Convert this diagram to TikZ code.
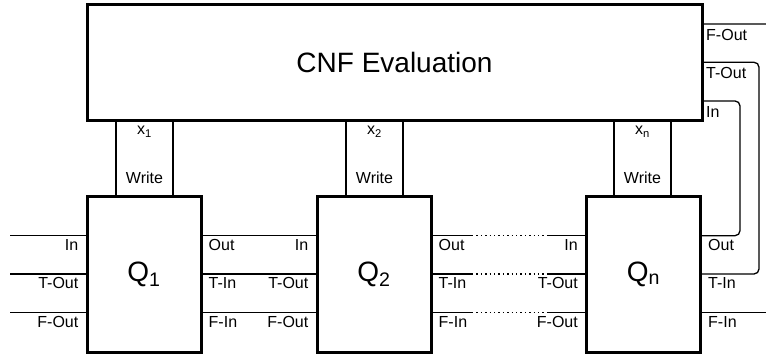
\documentclass[tikz,border=0pt]{standalone}
\usepackage{fontspec}
\setmainfont{Liberation Sans}
\usetikzlibrary{positioning}

\begin{document}
\begin{tikzpicture}[x=1pt, y=-1pt,
        wire/.style={line width=1.3pt},
        big/.style={font=\fontsize{28}{32}\selectfont},
        cnfbox/.style={big, draw, line width=3pt, rectangle,
          minimum width=615pt, minimum height=115.5pt},
        qbox/.style={big, draw, line width=3pt, rectangle,
          minimum width=114pt, minimum height=156pt},
        wbox/.style={draw, line width=1.3pt, rectangle,
          minimum width=57pt, minimum height=76pt},
        lbl/.style={font=\fontsize{16}{18}\selectfont, inner sep=0pt},
        lport/.style={lbl, anchor=north east, xshift=-7pt, yshift=-3.5pt},
        rport/.style={lbl, anchor=north west, xshift=6pt, yshift=-3.5pt},
        cport/.style={lbl, anchor=north west, xshift=2.5pt, yshift=-5pt},
      ]
      \useasboundingbox (0,0) rectangle (766,354);

      % Write boxes (under the thick borders)
      \node[wbox] (w1) at (144.5, 158) {};
      \node[wbox] (w2) at (374.5, 158) {};
      \node[wbox] (wn) at (642.5, 158) {};

      % Evaluation block
      \node[cnfbox] (cnf) at (394.5, 62.25) {CNF Evaluation};

      % Quantifier blocks
      \node[qbox] (q1) at (144, 274) {Q\textsubscript{1}};
      \node[qbox] (q2) at (374, 274) {Q\textsubscript{2}};
      \node[qbox] (qn) at (643.5, 274) {Q\textsubscript{n}};

      % Write box texts
      \node[lbl, anchor=north] (w1-x) at ([yshift=-6.7pt]w1.north) {x\textsubscript{1}};
      \node[lbl, anchor=north] (w2-x) at ([yshift=-6.7pt]w2.north) {x\textsubscript{2}};
      \node[lbl, anchor=north] (wn-x) at ([yshift=-6.7pt]wn.north) {x\textsubscript{n}};
      \node[lbl, anchor=base] (w1-w) at ([yshift=13pt]w1.south) {Write};
      \node[lbl, anchor=base] (w2-w) at ([yshift=13pt]w2.south) {Write};
      \node[lbl, anchor=base] (wn-w) at ([yshift=13pt]wn.south) {Write};

      % Ports of the evaluation block
      \coordinate (cnf-fout) at ([yshift=38.3pt]cnf.east);
      \coordinate (cnf-tout) at (cnf.east);
      \coordinate (cnf-in) at ([yshift=-38.7pt]cnf.east);

      % Ports of Q1
      \coordinate (q1-in) at ([yshift=38.3pt]q1.west);
      \coordinate (q1-tout) at (q1.west);
      \coordinate (q1-fout) at ([yshift=-38.3pt]q1.west);
      \coordinate (q1-out) at ([yshift=38.3pt]q1.east);
      \coordinate (q1-tin) at (q1.east);
      \coordinate (q1-fin) at ([yshift=-38.3pt]q1.east);

      % Ports of Q2
      \coordinate (q2-in) at ([yshift=38.3pt]q2.west);
      \coordinate (q2-tout) at (q2.west);
      \coordinate (q2-fout) at ([yshift=-38.3pt]q2.west);
      \coordinate (q2-out) at ([yshift=38.3pt]q2.east);
      \coordinate (q2-tin) at (q2.east);
      \coordinate (q2-fin) at ([yshift=-38.3pt]q2.east);

      % Ports of Qn
      \coordinate (qn-in) at ([yshift=38.3pt]qn.west);
      \coordinate (qn-tout) at (qn.west);
      \coordinate (qn-fout) at ([yshift=-38.3pt]qn.west);
      \coordinate (qn-out) at ([yshift=38.3pt]qn.east);
      \coordinate (qn-tin) at (qn.east);
      \coordinate (qn-fin) at ([yshift=-38.3pt]qn.east);

      % Free ends and breaks
      \coordinate (left-in) at (10, 235.7);
      \coordinate (left-tout) at (10, 274);
      \coordinate (left-fout) at (10, 312.3);
      \coordinate (right-fin) at (766, 312.3);
      \coordinate (right-fout) at (766, 24);
      \coordinate (gap-a1) at (472, 235.7);
      \coordinate (gap-b1) at (547, 235.7);
      \coordinate (gap-a2) at (472, 274);
      \coordinate (gap-b2) at (547, 274);
      \coordinate (gap-a3) at (472, 312.3);
      \coordinate (gap-b3) at (547, 312.3);

      % Wires
      \draw[wire] (left-in) -- (q1-in);
      \draw[wire] (left-tout) -- (q1-tout);
      \draw[wire] (left-fout) -- (q1-fout);
      \draw[wire] (q1-out) -- (q2-in);
      \draw[wire] (q1-tin) -- (q2-tout);
      \draw[wire] (q1-fin) -- (q2-fout);
      \draw[wire] (q2-out) -- (gap-a1) (gap-b1) -- (qn-in);
      \draw[wire] (q2-tin) -- (gap-a2) (gap-b2) -- (qn-tout);
      \draw[wire] (q2-fin) -- (gap-a3) (gap-b3) -- (qn-fout);
      \draw[wire, dash pattern=on 1.4pt off 3pt] (gap-a1) -- (gap-b1);
      \draw[wire, dash pattern=on 1.4pt off 3pt] (gap-a2) -- (gap-b2);
      \draw[wire, dash pattern=on 1.4pt off 3pt] (gap-a3) -- (gap-b3);
      \draw[wire] (qn-fin) -- (right-fin);
      \draw[wire] (cnf-fout) -- (right-fout);
      \draw[wire, rounded corners=5pt] (qn-out) -- ++(38,0) |- (cnf-in);
      \draw[wire, rounded corners=5pt] (qn-tin) -- ++(57,0) |- (cnf-tout);

      % Port labels
      \node[lport] (q1-inl) at (q1-in) {In};
      \node[lport] (q1-toutl) at (q1-tout) {T-Out};
      \node[lport] (q1-foutl) at (q1-fout) {F-Out};
      \node[rport] (q1-outl) at (q1-out) {Out};
      \node[rport] (q1-tinl) at (q1-tin) {T-In};
      \node[rport] (q1-finl) at (q1-fin) {F-In};

      \node[lport] (q2-inl) at (q2-in) {In};
      \node[lport] (q2-toutl) at (q2-tout) {T-Out};
      \node[lport] (q2-foutl) at (q2-fout) {F-Out};
      \node[rport] (q2-outl) at (q2-out) {Out};
      \node[rport] (q2-tinl) at (q2-tin) {T-In};
      \node[rport] (q2-finl) at (q2-fin) {F-In};

      \node[lport] (qn-inl) at (qn-in) {In};
      \node[lport] (qn-toutl) at (qn-tout) {T-Out};
      \node[lport] (qn-foutl) at (qn-fout) {F-Out};
      \node[rport] (qn-outl) at (qn-out) {Out};
      \node[rport] (qn-tinl) at (qn-tin) {T-In};
      \node[rport] (qn-finl) at (qn-fin) {F-In};

      \node[cport] (cnf-foutl) at (cnf-fout) {F-Out};
      \node[cport] (cnf-toutl) at (cnf-tout) {T-Out};
      \node[cport] (cnf-inl) at (cnf-in) {In};

\end{tikzpicture}
\end{document}
